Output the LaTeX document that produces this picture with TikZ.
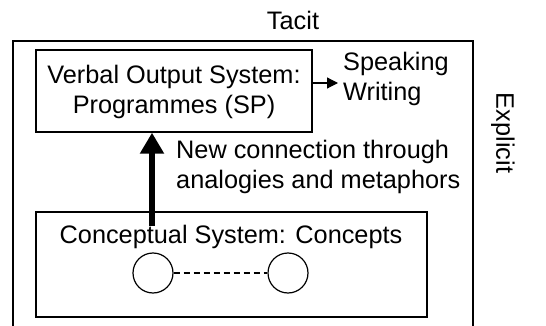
\documentclass[tikz,border=0pt]{standalone}
\usepackage{fontspec}
\setmainfont{Liberation Sans}
\usetikzlibrary{arrows.meta}
\begin{document}
\begin{tikzpicture}[x=1pt,y=-1pt,
  lbl/.style={font=\fontsize{25.3}{29.5}\selectfont, inner sep=0pt, align=center},
  frame/.style={draw, line width=1.4pt},
  conc/.style={draw, circle, line width=1.2pt, minimum size=40pt, inner sep=0pt}]
\useasboundingbox (0,0) rectangle (546,326);
\node[lbl] (tacit) at (293,20) {Tacit};
\draw[line width=1.4pt] (13,340) -- (13,41) -- (473,41) -- (473,340);
\node[frame, minimum width=276pt, minimum height=82pt, inner sep=0pt] (vos) at (174,91) {};
\node[lbl] (vostxt) at (174,92) {Verbal Output System:\\Programmes (SP)};
\node[lbl, align=left, anchor=west] (out) at (343,79) {Speaking\\Writing};
\draw[line width=1.2pt, -{Triangle[length=11pt,width=11pt]}] (vos.east |- 0,83) -- (338,83);
\node[frame, minimum width=391pt, minimum height=105pt, inner sep=0pt] (cs) at (231.5,264.5) {};
\node[lbl] (cstxt) at (231,237) {Conceptual System: Concepts};
\node[conc] (c1) at (153,273) {};
\node[conc] (c2) at (288,273) {};
\draw[line width=1.2pt, dash pattern=on 6pt off 4pt] (c1) -- (c2);
\coordinate (astart) at (152,226);
\draw[line width=6pt, -{Triangle[length=21pt,width=23pt]}] (astart) -- (astart |- vos.south);
\node[lbl, align=left, anchor=west] (newc) at (176,167) {New connection through\\analogies and metaphors};
\node[lbl, rotate=-90] (expl) at (503,133) {Explicit};
\end{tikzpicture}
\end{document}
